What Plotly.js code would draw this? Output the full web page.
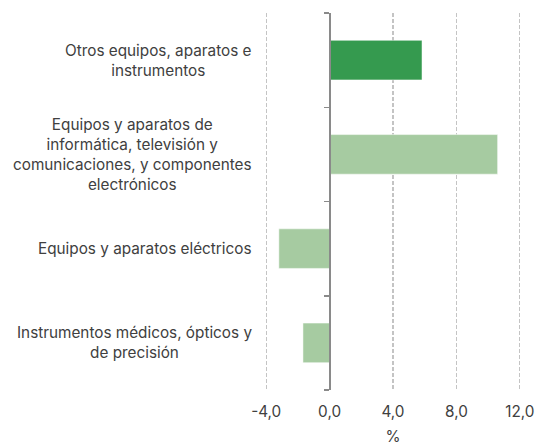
<!DOCTYPE html>
<html>
<head>
<meta charset="utf-8">
<script src="https://cdn.plot.ly/plotly-3.0.1.min.js"></script>
<style>html,body{margin:0;padding:0;background:#fff;}#chart{width:541px;height:446px;}</style>
</head>
<body>
<div id="chart"></div>
<script>
const categories = [
  "Otros equipos, aparatos e<br>instrumentos",
  "Equipos y aparatos de<br>informática, televisión y<br>comunicaciones, y componentes<br>electrónicos",
  "Equipos y aparatos eléctricos",
  "Instrumentos médicos, ópticos y<br>de precisión"
];
const values = [5.83, 10.6, -3.2, -1.68];
const barColors = ["#359a4f", "#a6cba1", "#a6cba1", "#a6cba1"];
const xTickVals = [-4, 0, 4, 8, 12];
const xTickText = ["-4,0", "0,0", "4,0", "8,0", "12,0"];
const boundaryTicks = [-0.5, 0.5, 1.5, 2.5, 3.5];

const fontFam = "Inter, Liberation Sans, Arial, sans-serif";
const textColor = "#404040";
const fs = 15.3;

const xMin = -4.2, xMax = 12.2;
const zeroPos = (0 - xMin) / (xMax - xMin);

const data = [{
  type: "bar",
  orientation: "h",
  y: categories,
  x: values,
  marker: {color: barColors, line: {color: "#ffffff", width: 0.5}},
  width: 0.42,
  hoverinfo: "x+y",
  yaxis: "y"
}, {
  type: "scatter",
  mode: "none",
  x: [0],
  y: [0],
  yaxis: "y2",
  hoverinfo: "skip",
  showlegend: false
}];

const annotations = categories.map(c => ({
  xref: "paper", yref: "y",
  x: -0.035, y: c,
  xanchor: "right", yanchor: "middle",
  align: "center",
  text: c,
  showarrow: false,
  font: {family: fontFam, size: fs, color: textColor}
}));

const layout = {
  width: 541, height: 446,
  margin: {l: 263, r: 18, t: 13, b: 56},
  paper_bgcolor: "#ffffff",
  plot_bgcolor: "#ffffff",
  showlegend: false,
  font: {family: fontFam, size: fs, color: textColor},
  xaxis: {
    range: [xMin, xMax],
    tickvals: xTickVals,
    ticktext: xTickText,
    showgrid: true,
    gridcolor: "#c4c4c4",
    griddash: "4px,2px",
    gridwidth: 1.3,
    zeroline: false,
    showline: false,
    ticks: "outside",
    ticklen: 8,
    tickcolor: "rgba(0,0,0,0)",
    tickfont: {family: fontFam, size: fs, color: textColor},
    title: {text: "%", standoff: 11, font: {family: fontFam, size: fs, color: textColor}},
    fixedrange: true
  },
  yaxis: {
    type: "category",
    autorange: "reversed",
    showticklabels: false,
    showgrid: false,
    zeroline: false,
    showline: false,
    ticks: "",
    fixedrange: true
  },
  yaxis2: {
    overlaying: "y",
    anchor: "free",
    position: zeroPos,
    side: "left",
    range: [3.5, -0.5],
    tickvals: boundaryTicks,
    showticklabels: false,
    ticks: "outside",
    ticklen: 5,
    tickwidth: 1.5,
    tickcolor: "#8a8a8a",
    showline: true,
    linecolor: "#8a8a8a",
    linewidth: 2,
    showgrid: false,
    zeroline: false,
    fixedrange: true
  },
  annotations: annotations,
  bargap: 0.58
};

Plotly.newPlot("chart", data, layout, {displayModeBar: false, staticPlot: true});
</script>
</body>
</html>
